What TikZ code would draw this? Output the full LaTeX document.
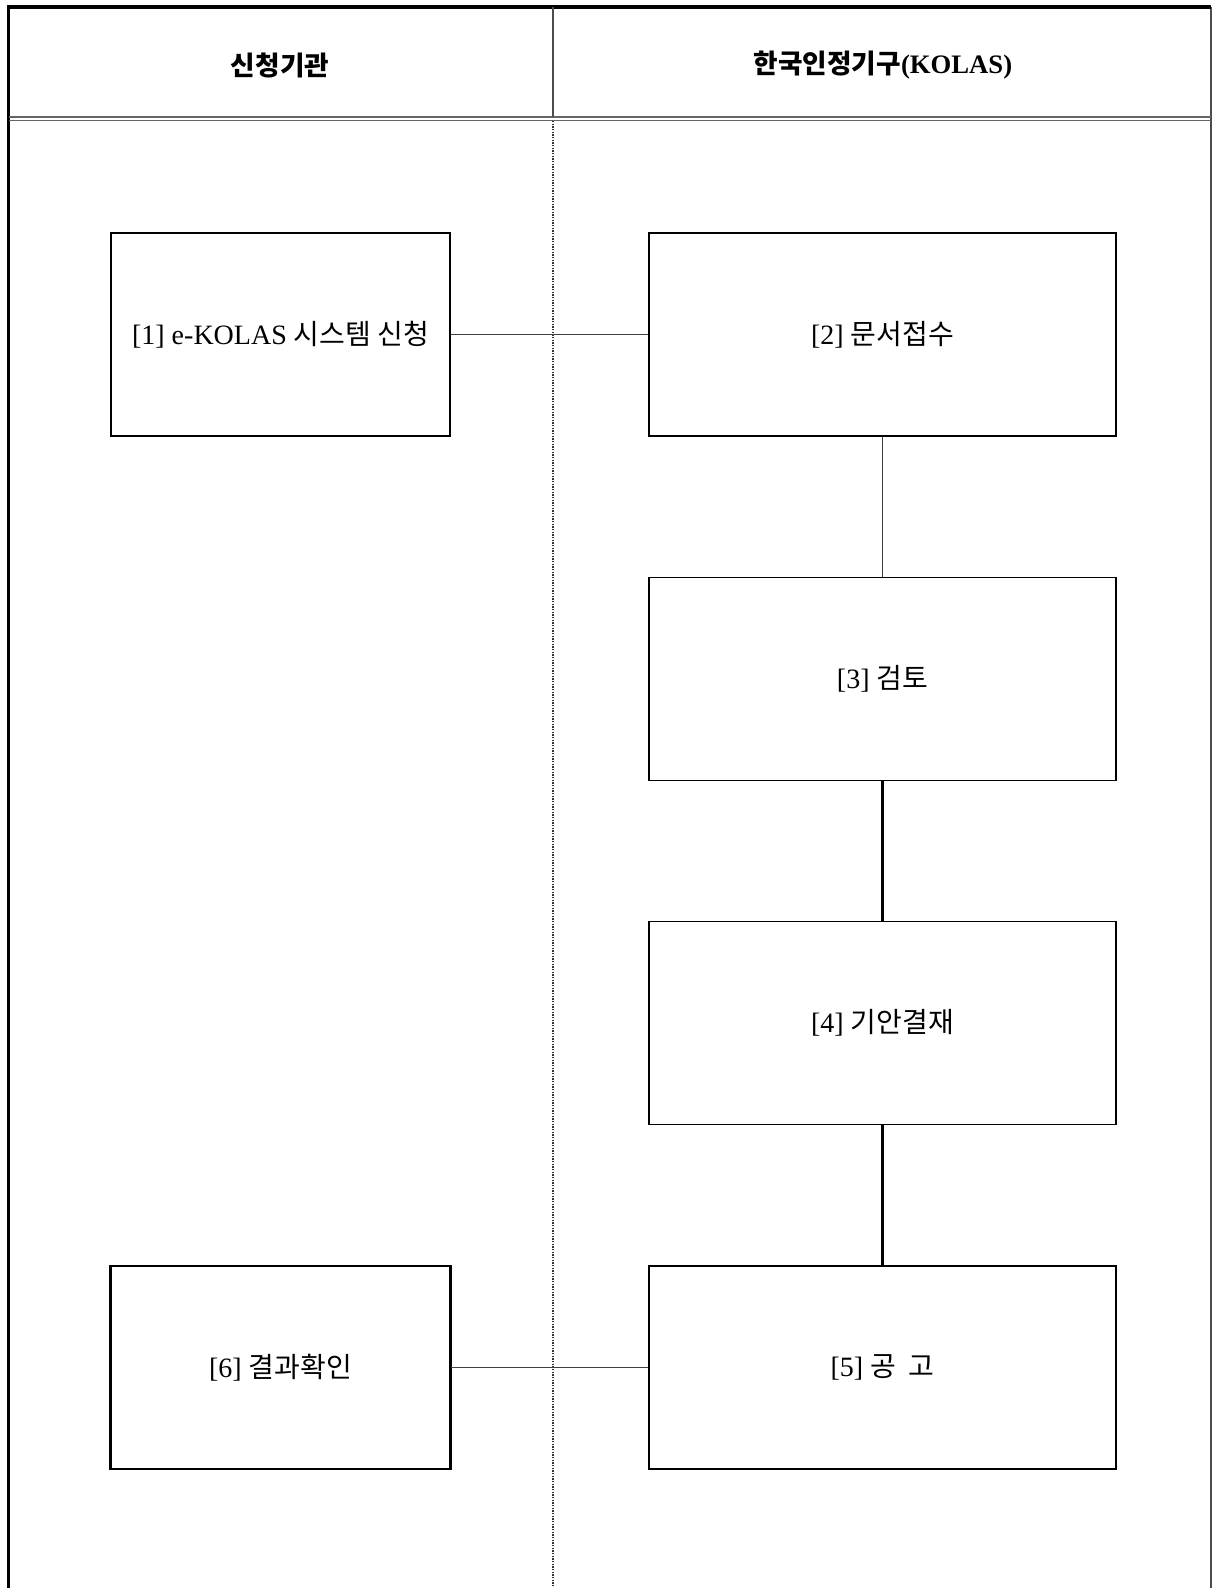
\documentclass[tikz,border=0pt]{standalone}
\usepackage{fontspec}
\setmainfont{Liberation Serif}
\newfontfamily\krf{Noto Sans CJK KR}
\begin{document}
\begin{tikzpicture}[x=0.75pt,y=-0.75pt,
  stepbox/.style={draw=black,line width=0.9pt,rectangle,align=center,
    minimum height=152.25pt,inner sep=0pt,font=\fontsize{21}{24}\selectfont},
  leftbox/.style={stepbox,minimum width=254.25pt},
  rightbox/.style={stepbox,minimum width=350.25pt},
  thinlink/.style={draw=black!75,line width=0.8pt},
  thicklink/.style={draw=black,line width=2.2pt},
  hdr/.style={font=\fontsize{20}{24}\selectfont\bfseries}]
\useasboundingbox (0,0) rectangle (1212,1588);
% frame
\coordinate (tl) at (8.5,7);
\coordinate (tr) at (1211,7);
\coordinate (bl) at (8.5,1588);
\coordinate (br) at (1211,1588);
\draw[black!70,line width=1pt] (tr) -- (br);
\draw[black,line width=2.4pt] (bl) -- (tl) -- (tr);
% header separator (double)
\coordinate (hl1) at (9,117);
\coordinate (hr1) at (1211,117);
\coordinate (hl2) at (9,120.5);
\coordinate (hr2) at (1211,120.5);
\draw[black!60,line width=1pt] (hl1) -- (hr1);
\draw[black!60,line width=1pt] (hl2) -- (hr2);
% column divider
\coordinate (dtop) at (553,7);
\coordinate (dmid) at (553,117);
\coordinate (dmid2) at (553,121);
\coordinate (dbot) at (553,1588);
\draw[black!70,line width=0.9pt] (dtop) -- (dmid);
\draw[black!80,line width=0.8pt,dash pattern=on 1pt off 1pt] (dmid2) -- (dbot);
% headers
\node[hdr] (h1) at (280,65) {\krf\bfseries 신청기관};
\node[hdr] (h2) at (883,65) {{\krf\bfseries 한국인정기구}(KOLAS)};
% boxes
\node[leftbox,fill=white] (b1) at (280.5,334.5) {[1] e-KOLAS {\krf 시스템 신청}};
\node[rightbox,fill=white] (b2) at (882.5,334.5) {[2] {\krf 문서접수}};
\node[rightbox,fill=white] (b3) at (882.5,679) {[3] {\krf 검토}};
\node[rightbox,fill=white] (b4) at (882.5,1023) {[4] {\krf 기안결재}};
\node[rightbox,fill=white] (b5) at (882.5,1367.5) {[5] {\krf 공 \ 고}};
\node[leftbox,fill=white] (b6) at (280.5,1367.5) {[6] {\krf 결과확인}};
\draw[black,line width=2pt] (b6.north west) -- (b6.south west);
\draw[black,line width=2pt] (b6.north east) -- (b6.south east);
% connectors
\draw[thinlink] (b1.east) -- (b2.west);
\draw[thinlink] (b2.south) -- (b3.north);
\draw[thicklink] (b3.south) -- (b4.north);
\draw[thicklink] (b4.south) -- (b5.north);
\draw[thinlink] (b5.west) -- (b6.east);
\end{tikzpicture}
\end{document}
